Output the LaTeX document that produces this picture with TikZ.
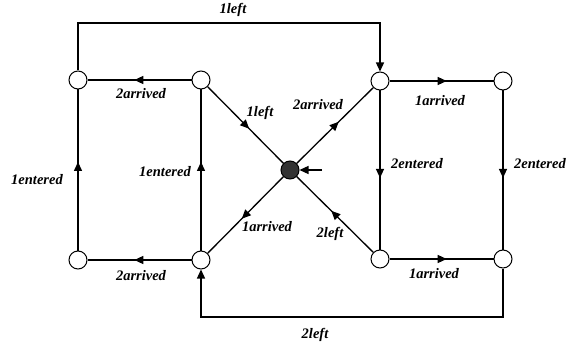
\documentclass[tikz,border=0pt]{standalone}
\usepackage{fontspec}
\setmainfont{Liberation Serif}
\usetikzlibrary{arrows.meta,decorations.markings}
\begin{document}
\begin{tikzpicture}[x=1pt,y=-1pt,
  st/.style={circle,draw,line width=1pt,fill=white,minimum size=18pt,inner sep=0pt},
  ststart/.style={circle,draw,line width=1pt,fill=black!80,minimum size=18pt,inner sep=0pt},
  edge/.style={line width=1.3pt},
  midarrow/.style={postaction={decorate,decoration={markings,mark=at position #1 with {\arrow{Triangle[length=9pt,width=8pt]}}}}},
  lbl/.style={font=\fontsize{14.5}{17}\selectfont\bfseries\itshape,inner sep=0pt},
  endarrow/.style={-{Triangle[length=9pt,width=8pt]}}]
\useasboundingbox (0,0) rectangle (569,347);
\node[st] (a) at (78,80) {};
\node[st] (b) at (78,260) {};
\node[st] (c) at (201,80) {};
\node[st] (d) at (201,260) {};
\node[ststart] (m) at (290,170) {};
\node[st] (e) at (380,81) {};
\node[st] (f) at (380,259) {};
\node[st] (g) at (503,81) {};
\node[st] (h) at (503,259) {};
\coordinate (tl) at (78,23);
\coordinate (tr) at (380,23);
\coordinate (br) at (503,317);
\coordinate (bl) at (201,317);
\coordinate (init) at (322,170);
% edges
\draw[edge,endarrow] (a) -- (tl) -- (tr) -- (e);
\draw[edge,endarrow] (h) -- (br) -- (bl) -- (d);
\draw[edge,endarrow] (init) -- (m);
\draw[edge,midarrow=0.55] (c) -- (a);
\draw[edge,midarrow=0.55] (d) -- (b);
\draw[edge,midarrow=0.55] (b) -- (a);
\draw[edge,midarrow=0.55] (d) -- (c);
\draw[edge,midarrow=0.55] (c) -- (m);
\draw[edge,midarrow=0.55] (m) -- (e);
\draw[edge,midarrow=0.55] (m) -- (d);
\draw[edge,midarrow=0.55] (f) -- (m);
\draw[edge,midarrow=0.55] (e) -- (f);
\draw[edge,midarrow=0.55] (g) -- (h);
\draw[edge,midarrow=0.55] (e) -- (g);
\draw[edge,midarrow=0.55] (f) -- (h);
% labels
\node[lbl] (l1) at (233,10) {1left};
\node[lbl] (l2) at (141,94) {2arrived};
\node[lbl] (l3) at (37,180) {1entered};
\node[lbl] (l4) at (165,172) {1entered};
\node[lbl] (l5) at (260,113) {1left};
\node[lbl] (l6) at (267,227) {1arrived};
\node[lbl] (l7) at (141,276) {2arrived};
\node[lbl] (l8) at (318,105) {2arrived};
\node[lbl] (l9) at (440,101) {1arrived};
\node[lbl] (l10) at (417,164) {2entered};
\node[lbl] (l11) at (540,164) {2entered};
\node[lbl] (l12) at (330,234) {2left};
\node[lbl] (l13) at (434,274) {1arrived};
\node[lbl] (l14) at (315,335) {2left};
\end{tikzpicture}
\end{document}
